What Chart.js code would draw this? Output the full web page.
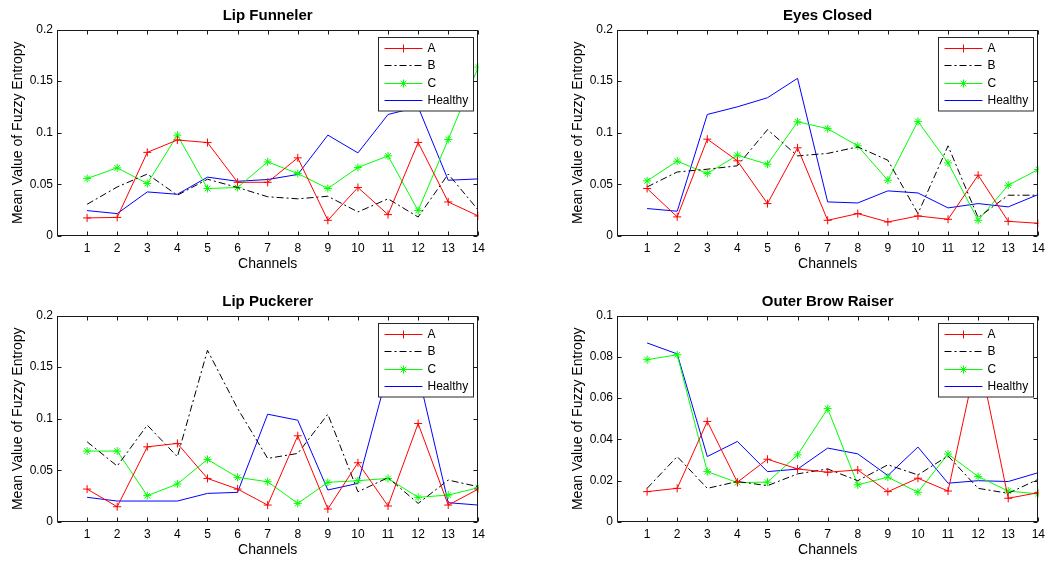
<!DOCTYPE html>
<html>
<head>
<meta charset="utf-8">
<script src="https://cdn.jsdelivr.net/npm/chart.js@4/dist/chart.umd.min.js"></script>
<style>
html,body{margin:0;padding:0;background:#fff;overflow:hidden;width:1050px;height:562px;}
canvas{position:absolute;}
</style>
</head>
<body>
<canvas id="c1" width="490" height="276" style="left:0px;top:0px"></canvas>
<canvas id="c2" width="490" height="276" style="left:560px;top:0px"></canvas>
<canvas id="c3" width="490" height="276" style="left:0px;top:286px"></canvas>
<canvas id="c4" width="490" height="276" style="left:560px;top:286px"></canvas>
<script>
const channels = [1,2,3,4,5,6,7,8,9,10,11,12,13,14];
const seriesNames = ['A','B','C','Healthy'];

const funnelerA = [0.0175,0.018,0.081,0.093,0.0905,0.052,0.052,0.0757,0.0152,0.047,0.0207,0.0906,0.033,0.0194];
const funnelerB = [0.0307,0.0475,0.06,0.0395,0.055,0.047,0.038,0.036,0.0385,0.0233,0.036,0.0184,0.06,0.025];
const funnelerC = [0.0557,0.066,0.0508,0.0977,0.046,0.047,0.0718,0.0605,0.046,0.0663,0.0776,0.0246,0.0935,0.1636];
const funnelerH = [0.0246,0.0217,0.0427,0.0404,0.057,0.053,0.0547,0.0596,0.0977,0.0805,0.1177,0.125,0.054,0.0553];

const eyesA = [0.046,0.0185,0.0938,0.0728,0.0314,0.0854,0.0152,0.0217,0.0136,0.0194,0.0162,0.0589,0.0142,0.0123];
const eyesB = [0.0475,0.062,0.0647,0.068,0.103,0.0776,0.08,0.0863,0.0734,0.0217,0.0873,0.0178,0.0395,0.0395];
const eyesC = [0.0534,0.0725,0.0605,0.0783,0.0695,0.1106,0.104,0.0873,0.054,0.111,0.0708,0.0152,0.0492,0.0644];
const eyesH = [0.0266,0.024,0.1177,0.1251,0.1339,0.1527,0.033,0.032,0.0437,0.0417,0.0272,0.0314,0.0282,0.0402];

const puckerA = [0.0319,0.0148,0.0728,0.0761,0.0422,0.0319,0.0164,0.0835,0.0126,0.0574,0.0155,0.0954,0.0164,0.0319];
const puckerB = [0.0777,0.0542,0.0938,0.0632,0.1663,0.11,0.0616,0.0664,0.1044,0.0293,0.0429,0.018,0.0406,0.0342];
const puckerC = [0.0687,0.0687,0.0255,0.0368,0.0606,0.0432,0.039,0.018,0.0384,0.04,0.0422,0.0239,0.0261,0.0332];
const puckerH = [0.0239,0.0203,0.0203,0.0203,0.0277,0.0287,0.1044,0.0986,0.031,0.0374,0.146,0.144,0.0187,0.0164];

const browA = [0.0147,0.0163,0.0487,0.0193,0.0304,0.0257,0.0241,0.0252,0.0147,0.0212,0.015,0.082,0.0115,0.0142];
const browB = [0.0163,0.0317,0.0163,0.0196,0.0176,0.0233,0.0257,0.02,0.0277,0.0228,0.032,0.0163,0.0139,0.0207];
const browC = [0.0786,0.081,0.0244,0.0191,0.0193,0.0325,0.0549,0.018,0.0217,0.0144,0.0329,0.022,0.015,0.0136];
const browH = [0.0867,0.0814,0.0317,0.039,0.0244,0.0256,0.0358,0.033,0.0225,0.0363,0.0188,0.02,0.0196,0.0239];

const titles = ['Lip Funneler','Eyes Closed','Lip Puckerer','Outer Brow Raiser'];
const yMaxes = [0.2,0.2,0.2,0.1];
const ySteps = [0.05,0.05,0.05,0.02];
const xTitle = 'Channels';
const yTitle = 'Mean Value of Fuzzy Entropy';

const FONT = '"Liberation Sans", Arial, Helvetica, sans-serif';

function drawMarker(ctx, style, x, y, r, color){
  ctx.save();
  ctx.strokeStyle = color; ctx.lineWidth = 1; ctx.setLineDash([]);
  ctx.beginPath();
  if (style === 'cross' || style === 'star'){
    ctx.moveTo(x - r, y); ctx.lineTo(x + r, y);
    ctx.moveTo(x, y - r); ctx.lineTo(x, y + r);
  }
  if (style === 'star'){
    const d = r * Math.SQRT1_2;
    ctx.moveTo(x - d, y - d); ctx.lineTo(x + d, y + d);
    ctx.moveTo(x - d, y + d); ctx.lineTo(x + d, y - d);
  }
  ctx.stroke();
  ctx.restore();
}

const framePlugin = {
  id: 'matlabFrame',
  afterDatasetsDraw(chart){
    const ctx = chart.ctx, a = chart.chartArea;
    const xs = chart.scales.x, ys = chart.scales.y;
    const tl = 4;
    ctx.save();
    ctx.strokeStyle = '#1a1a1a'; ctx.lineWidth = 1; ctx.setLineDash([]);
    const L = Math.round(a.left) + 0.5, R = Math.round(a.right) - 0.5;
    const T = Math.round(a.top) + 0.5, B = Math.round(a.bottom) - 0.5;
    ctx.strokeRect(L, T, R - L, B - T);
    ctx.beginPath();
    xs.ticks.forEach(t => {
      const px = Math.round(xs.getPixelForValue(t.value)) + 0.5;
      ctx.moveTo(px, B); ctx.lineTo(px, B - tl);
      ctx.moveTo(px, T); ctx.lineTo(px, T + tl);
    });
    ys.ticks.forEach(t => {
      const py = Math.round(ys.getPixelForValue(t.value)) + 0.5;
      ctx.moveTo(L, py); ctx.lineTo(L + tl, py);
      ctx.moveTo(R, py); ctx.lineTo(R - tl, py);
    });
    ctx.stroke();
    ctx.restore();
  },
  afterDraw(chart){
    const ctx = chart.ctx, a = chart.chartArea;
    const w = 95, h = 73.5;
    const x0 = Math.round(a.right - 5.5 - w) + 0.5, y0 = Math.round(a.top + 7) + 0.5;
    ctx.save();
    ctx.fillStyle = '#fff';
    ctx.fillRect(x0, y0, w, h);
    ctx.strokeStyle = '#262626'; ctx.lineWidth = 1;
    ctx.strokeRect(x0, y0, w, h);
    chart.data.datasets.forEach((ds, i) => {
      const y = Math.round(y0 + 10.6 + i * 17.3) + 0.5;
      ctx.strokeStyle = ds.borderColor; ctx.lineWidth = 1;
      ctx.setLineDash(ds.borderDash || []);
      ctx.beginPath(); ctx.moveTo(x0 + 6, y); ctx.lineTo(x0 + 44, y); ctx.stroke();
      ctx.setLineDash([]);
      if (ds.pointRadius > 0) drawMarker(ctx, ds.pointStyle, x0 + 25, y, 4, ds.borderColor);
      ctx.fillStyle = '#000'; ctx.font = '12px ' + FONT;
      ctx.textBaseline = 'middle'; ctx.textAlign = 'left';
      ctx.fillText(ds.label, x0 + 49, y + 0.5);
    });
    ctx.restore();
  }
};

function makeDatasets(a, b, c, h){
  const pts = arr => arr.map((v, i) => ({x: channels[i], y: v}));
  return [
    {label: seriesNames[0], data: pts(a), borderColor: '#ff0000', backgroundColor: '#ff0000', borderWidth: 1,
     pointStyle: 'cross', pointRadius: 4, pointBorderWidth: 1, pointBorderColor: '#ff0000'},
    {label: seriesNames[1], data: pts(b), borderColor: '#000000', backgroundColor: '#000000', borderWidth: 1,
     borderDash: [7,3,2,3], pointRadius: 0},
    {label: seriesNames[2], data: pts(c), borderColor: '#00ff00', backgroundColor: '#00ff00', borderWidth: 1,
     pointStyle: 'star', pointRadius: 4, pointBorderWidth: 1, pointBorderColor: '#00ff00'},
    {label: seriesNames[3], data: pts(h), borderColor: '#0000ff', backgroundColor: '#0000ff', borderWidth: 1,
     pointRadius: 0}
  ];
}

function fmt(v){ return String(Number(v.toFixed(4))); }

function makeChart(id, idx, datasets){
  return new Chart(document.getElementById(id), {
    type: 'line',
    data: {datasets},
    plugins: [framePlugin],
    options: {
      responsive: false, animation: false, devicePixelRatio: 1,
      layout: {padding: {left: 0, right: 7.5, top: 0, bottom: 0}},
      elements: {line: {tension: 0, fill: false}},
      plugins: {
        legend: {display: false}, tooltip: {enabled: false},
        title: {display: true, text: titles[idx], fullSize: false, color: '#000',
                font: {family: FONT, size: 15, weight: 'bold'}, padding: {top: 6.5, bottom: 5}}
      },
      scales: {
        x: {type: 'linear', min: 0, max: 14,
            afterBuildTicks: s => { s.ticks = channels.map(v => ({value: v})); },
            afterFit: s => { s.height = 40; },
            grid: {display: false, drawTicks: false}, border: {display: false},
            ticks: {autoSkip: false, maxRotation: 0, padding: 5, color: '#000',
                    font: {family: FONT, size: 12}, callback: v => String(v)},
            title: {display: true, text: xTitle, color: '#000', font: {family: FONT, size: 14},
                    padding: {top: 0, bottom: 3}}},
        y: {min: 0, max: yMaxes[idx],
            afterFit: s => { s.width = 57; },
            grid: {display: false, drawTicks: false}, border: {display: false},
            ticks: {stepSize: ySteps[idx], padding: 4, color: '#000',
                    font: {family: FONT, size: 12}, callback: v => fmt(v)},
            title: {display: true, text: yTitle, color: '#000', font: {family: FONT, size: 14},
                    padding: {top: 10, bottom: 0}}}
      }
    }
  });
}

makeChart('c1', 0, makeDatasets(funnelerA, funnelerB, funnelerC, funnelerH));
makeChart('c2', 1, makeDatasets(eyesA, eyesB, eyesC, eyesH));
makeChart('c3', 2, makeDatasets(puckerA, puckerB, puckerC, puckerH));
makeChart('c4', 3, makeDatasets(browA, browB, browC, browH));
</script>
</body>
</html>
